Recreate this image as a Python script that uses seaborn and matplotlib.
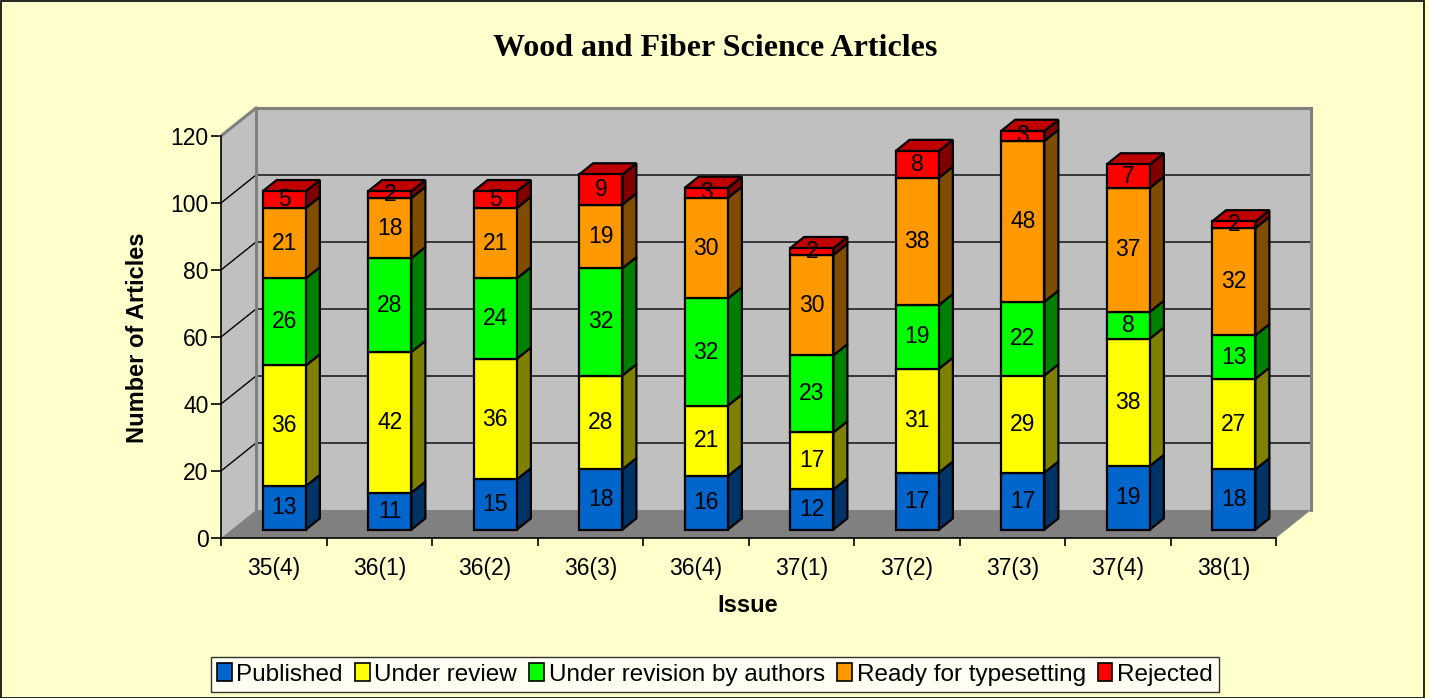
import matplotlib
matplotlib.use("Agg")
import matplotlib.pyplot as plt
from matplotlib.patches import Polygon, Patch, Rectangle
import seaborn as sns
import numpy as np

issues = ["35(4)", "36(1)", "36(2)", "36(3)", "36(4)", "37(1)", "37(2)", "37(3)", "37(4)", "38(1)"]
published = [13, 11, 15, 18, 16, 12, 17, 17, 19, 18]
under_review = [36, 42, 36, 28, 21, 17, 31, 29, 38, 27]
under_revision = [26, 28, 24, 32, 32, 23, 19, 22, 8, 13]
ready = [21, 18, 21, 19, 30, 30, 38, 48, 37, 32]
rejected = [5, 2, 5, 9, 3, 2, 8, 3, 7, 2]
series_names = ["Published", "Under review", "Under revision by authors",
                "Ready for typesetting", "Rejected"]
y_ticks = [0, 20, 40, 60, 80, 100, 120]

front_colors = ["#0066CC", "#FFFF00", "#00FF00", "#FF9900", "#FF0000"]
side_colors = ["#003366", "#808000", "#008000", "#804C00", "#800000"]
top_colors = ["#0052A3", "#CCCC00", "#00CC00", "#CC7A00", "#C00000"]

sns.set_style("white")
plt.rcParams["font.family"] = ["Liberation Sans", "DejaVu Sans"]
plt.rcParams["text.color"] = "black"
plt.rcParams["axes.labelcolor"] = "black"
plt.rcParams["xtick.color"] = "black"
plt.rcParams["ytick.color"] = "black"

W, H = 1429, 698
fig = plt.figure(figsize=(W / 100, H / 100), dpi=100)
fig.patch.set_facecolor("#FFFFCC")
fig.patches.append(Rectangle((0.5 / W, 0.5 / H), 1423.5 / W, 696.5 / H, transform=fig.transFigure,
                             fill=False, edgecolor="black", lw=1.2))

ax = fig.add_axes([221 / W, (H - 538) / H, 1055 / W, 402 / H])
ax.set_facecolor("none")
ax.set_xlim(-0.5, 9.5)
ax.set_ylim(0, 120)

Dx, Dy = 35 / 105.5, 28 / 3.35
x0, x1, ytop = -0.5, 9.5, 120

def P(x, y, d):
    return (x + d * Dx, y + d * Dy)

wall = "#C0C0C0"
edge = "#808080"
# left wall
ax.add_patch(Polygon([P(x0, 0, 0), P(x0, 0, 1), P(x0, ytop, 1), P(x0, ytop, 0)],
                     closed=True, facecolor=wall, edgecolor="none", clip_on=False, zorder=0))
# back wall
ax.add_patch(Polygon([P(x0, 0, 1), P(x1, 0, 1), P(x1, ytop, 1), P(x0, ytop, 1)],
                     closed=True, facecolor=wall, edgecolor="none", clip_on=False, zorder=0))
# floor
ax.add_patch(Polygon([P(x0, 0, 0), P(x1, 0, 0), P(x1, 0, 1), P(x0, 0, 1)],
                     closed=True, facecolor="#808080", edgecolor="none", clip_on=False, zorder=0.5))
# gridlines
for v in y_ticks[1:-1]:
    a, b = P(x0, v, 0), P(x0, v, 1)
    c = P(x1, v, 1)
    ax.plot([a[0], b[0], c[0]], [a[1], b[1], c[1]], color="black", lw=1, clip_on=False, zorder=1)
# wall edges
for (p, q) in [(P(x0, ytop, 0), P(x0, ytop, 1)), (P(x0, ytop, 1), P(x1, ytop, 1)),
               (P(x1, ytop, 1), P(x1, 0, 1)), (P(x0, 0, 1), P(x0, ytop, 1))]:
    ax.plot([p[0], q[0]], [p[1], q[1]], color=edge, lw=2.2, clip_on=False, zorder=1.2,
            solid_capstyle="projecting")

# bars
data = np.array([published, under_review, under_revision, ready, rejected], dtype=float)
bw = 0.41
df, db = 0.3, 0.7
xs = np.arange(len(issues))
bottoms = np.zeros(len(issues))
for s in range(len(series_names)):
    vals = data[s]
    fx = xs + df * Dx
    ax.bar(fx, vals, width=bw, bottom=bottoms + df * Dy, color=front_colors[s],
           edgecolor="black", linewidth=1.6, zorder=3, clip_on=False)
    for i in range(len(issues)):
        b, t = bottoms[i], bottoms[i] + vals[i]
        xr = xs[i] + bw / 2
        xl = xs[i] - bw / 2
        ax.add_patch(Polygon([P(xr, b, df), P(xr, b, db), P(xr, t, db), P(xr, t, df)],
                             closed=True, facecolor=side_colors[s], edgecolor="black",
                             lw=1.6, zorder=2.9, clip_on=False))
        if s == len(series_names) - 1:
            ax.add_patch(Polygon([P(xl, t, df), P(xl, t, db), P(xr, t, db), P(xr, t, df)],
                                 closed=True, facecolor=top_colors[s], edgecolor="black",
                                 lw=1.6, zorder=2.9, clip_on=False, joinstyle="miter"))
        cx, cy = P(xs[i], b + vals[i] / 2, df)
        ax.text(cx, cy, f"{int(vals[i])}", ha="center", va="center", fontsize=16.5,
                color="black", zorder=4, clip_on=False)
    bottoms = bottoms + vals

# axes / spines
for sp in ["top", "right"]:
    ax.spines[sp].set_visible(False)
for sp in ["left", "bottom"]:
    ax.spines[sp].set_visible(True)
    ax.spines[sp].set_color("black")
    ax.spines[sp].set_linewidth(1.2)
    ax.spines[sp].set_zorder(2)

ax.set_yticks(y_ticks)
ax.set_yticklabels([str(v) for v in y_ticks], fontsize=16.5)
ax.tick_params(axis="y", direction="out", length=7, width=1.2, pad=2, left=True, color="black")
ax.set_xticks(np.arange(-0.5, 10, 1.0))
ax.set_xticklabels([])
ax.set_xticks(xs, minor=True)
ax.set_xticklabels(issues, minor=True, fontsize=16.5)
ax.tick_params(axis="x", which="major", direction="out", length=6, width=1.2, bottom=True, color="black")
ax.tick_params(axis="x", which="minor", length=0, pad=14)
ax.grid(False)

fig.text(715 / W, 1 - 48 / H, "Wood and Fiber Science Articles", ha="center", va="center",
         fontsize=23, fontweight="bold", family=["Liberation Serif", "DejaVu Serif"])
fig.text(137 / W, 1 - 338 / H, "Number of Articles", ha="center", va="center", rotation=90,
         fontsize=17, fontweight="bold")
fig.text(748 / W, 1 - 605 / H, "Issue", ha="center", va="center", fontsize=17, fontweight="bold")

handles = [Patch(facecolor=c, edgecolor="black", linewidth=1.2) for c in front_colors]
leg = fig.legend(handles, series_names, loc="center", bbox_to_anchor=(715 / W, 1 - 674.5 / H),
                 ncol=5, fontsize=17.5, frameon=True, fancybox=False, edgecolor="black",
                 handlelength=0.6, handleheight=0.7, handletextpad=0.2, columnspacing=0.5,
                 borderpad=0.25, borderaxespad=0)
leg.get_frame().set_linewidth(1.0)
leg.get_frame().set_facecolor("white")

fig.savefig("out.png", dpi=100, facecolor=fig.get_facecolor())
